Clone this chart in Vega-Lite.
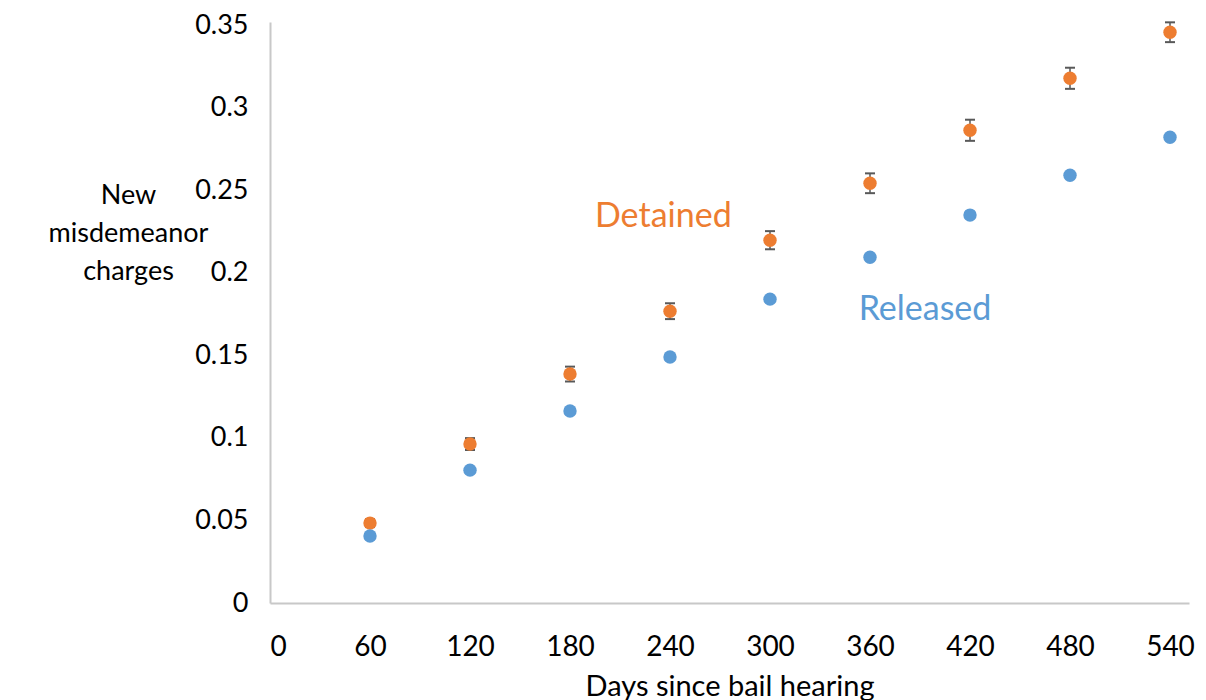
{
  "$schema": "https://vega.github.io/schema/vega-lite/v6.json",
  "width": 919,
  "height": 581,
  "autosize": "none",
  "padding": {"left": 270, "top": 22, "right": 17, "bottom": 97},
  "background": "white",
  "config": {
    "view": {"stroke": null},
    "font": "Lato",
    "axis": {"grid": false, "ticks": false, "domainColor": "#c8c8c8", "domainWidth": 2, "labelColor": "#000000", "titleColor": "#000000", "labelFont": "Lato", "titleFont": "Lato", "titleFontWeight": "normal"}
  },
  "datasets": {
    "points": [
      {"days": 60, "group": "Detained", "value": 0.0484, "lo": 0.0460, "hi": 0.0508},
      {"days": 120, "group": "Detained", "value": 0.0963, "lo": 0.0927, "hi": 0.0999},
      {"days": 180, "group": "Detained", "value": 0.1387, "lo": 0.1342, "hi": 0.1432},
      {"days": 240, "group": "Detained", "value": 0.1768, "lo": 0.1720, "hi": 0.1816},
      {"days": 300, "group": "Detained", "value": 0.2198, "lo": 0.2143, "hi": 0.2253},
      {"days": 360, "group": "Detained", "value": 0.2543, "lo": 0.2483, "hi": 0.2603},
      {"days": 420, "group": "Detained", "value": 0.2864, "lo": 0.2800, "hi": 0.2928},
      {"days": 480, "group": "Detained", "value": 0.3179, "lo": 0.3115, "hi": 0.3243},
      {"days": 540, "group": "Detained", "value": 0.3458, "lo": 0.3398, "hi": 0.3518},
      {"days": 60, "group": "Released", "value": 0.0406},
      {"days": 120, "group": "Released", "value": 0.0805},
      {"days": 180, "group": "Released", "value": 0.1163},
      {"days": 240, "group": "Released", "value": 0.1490},
      {"days": 300, "group": "Released", "value": 0.1841},
      {"days": 360, "group": "Released", "value": 0.2095},
      {"days": 420, "group": "Released", "value": 0.2350},
      {"days": 480, "group": "Released", "value": 0.2592},
      {"days": 540, "group": "Released", "value": 0.2822}
    ],
    "labels": [
      {"group": "Detained", "days": 236, "value": 0.234},
      {"group": "Released", "days": 393, "value": 0.1775}
    ]
  },
  "layer": [
    {
      "data": {"name": "points"},
      "transform": [{"filter": "datum.group === 'Detained'"}],
      "mark": {"type": "rule", "color": "#595959", "strokeWidth": 1.5},
      "encoding": {
        "x": {"field": "days", "type": "quantitative", "scale": {"domain": [0, 551.4], "nice": false}},
        "y": {"field": "lo", "type": "quantitative", "scale": {"domain": [0, 0.352], "nice": false}},
        "y2": {"field": "hi"}
      }
    },
    {
      "data": {"name": "points"},
      "transform": [{"filter": "datum.group === 'Detained'"}],
      "mark": {"type": "tick", "orient": "horizontal", "color": "#595959", "size": 10, "thickness": 2, "opacity": 1},
      "encoding": {
        "x": {"field": "days", "type": "quantitative"},
        "y": {"field": "lo", "type": "quantitative"}
      }
    },
    {
      "data": {"name": "points"},
      "transform": [{"filter": "datum.group === 'Detained'"}],
      "mark": {"type": "tick", "orient": "horizontal", "color": "#595959", "size": 10, "thickness": 2, "opacity": 1},
      "encoding": {
        "x": {"field": "days", "type": "quantitative"},
        "y": {"field": "hi", "type": "quantitative"}
      }
    },
    {
      "data": {"name": "points"},
      "transform": [{"filter": "datum.group === 'Detained'"}],
      "mark": {"type": "circle", "size": 180, "opacity": 1},
      "encoding": {
        "x": {"field": "days", "type": "quantitative"},
        "y": {"field": "value", "type": "quantitative"},
        "color": {"field": "group", "type": "nominal", "scale": {"domain": ["Detained", "Released"], "range": ["#ED7D31", "#5B9BD5"]}, "legend": null}
      }
    },
    {
      "data": {"name": "points"},
      "transform": [{"filter": "datum.group === 'Released'"}],
      "mark": {"type": "circle", "size": 180, "opacity": 1},
      "encoding": {
        "x": {"field": "days", "type": "quantitative", "scale": {"domain": [0, 551.4], "nice": false},
          "axis": {"values": [0, 60, 120, 180, 240, 300, 360, 420, 480, 540], "labelFontSize": 28, "labelPadding": 30, "title": "Days since bail hearing", "titleFontSize": 29, "titlePadding": 11}},
        "y": {"field": "value", "type": "quantitative", "scale": {"domain": [0, 0.352], "nice": false},
          "axis": {"values": [0, 0.05, 0.1, 0.15, 0.2, 0.25, 0.3, 0.35], "labelFontSize": 27, "labelPadding": 22,
            "labelExpr": "datum.value === 0 ? '0' : replace(format(datum.value, '.2f'), /0$/, '')",
            "title": ["New", "misdemeanor", "charges"], "titleFontSize": 27, "titleAngle": 0, "titleAlign": "center", "titleBaseline": "middle", "titleLineHeight": 38, "titleX": -142, "titleY": 173}},
        "color": {"field": "group", "type": "nominal", "scale": {"domain": ["Detained", "Released"], "range": ["#ED7D31", "#5B9BD5"]}, "legend": null}
      }
    },
    {
      "data": {"name": "labels"},
      "mark": {"type": "text", "fontSize": 34, "font": "Lato", "align": "center", "baseline": "middle"},
      "encoding": {
        "x": {"field": "days", "type": "quantitative"},
        "y": {"field": "value", "type": "quantitative"},
        "text": {"field": "group"},
        "color": {"field": "group", "type": "nominal", "scale": {"domain": ["Detained", "Released"], "range": ["#ED7D31", "#5B9BD5"]}, "legend": null}
      }
    }
  ]
}
